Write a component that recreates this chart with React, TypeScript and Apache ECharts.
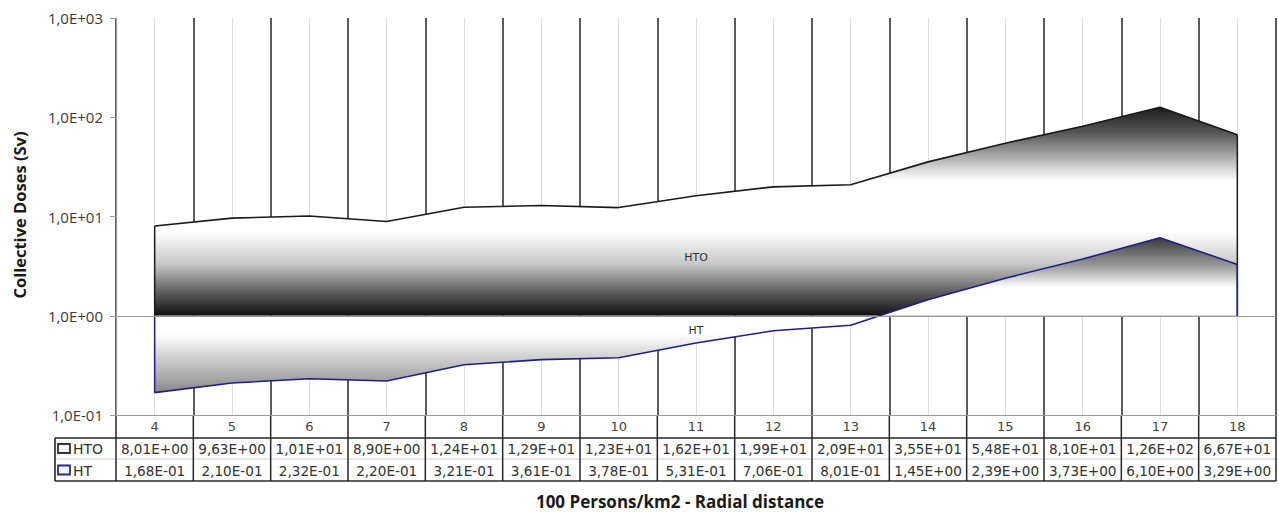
import React, { useEffect, useRef } from "react";
import * as echarts from "echarts";

const categories = ["4", "5", "6", "7", "8", "9", "10", "11", "12", "13", "14", "15", "16", "17", "18"];
const htoValues = [8.01, 9.63, 10.1, 8.9, 12.4, 12.9, 12.3, 16.2, 19.9, 20.9, 35.5, 54.8, 81.0, 126, 66.7];
const htValues = [0.168, 0.21, 0.232, 0.22, 0.321, 0.361, 0.378, 0.531, 0.706, 0.801, 1.45, 2.39, 3.73, 6.1, 3.29];
const htoTableText = ["8,01E+00", "9,63E+00", "1,01E+01", "8,90E+00", "1,24E+01", "1,29E+01", "1,23E+01", "1,62E+01", "1,99E+01", "2,09E+01", "3,55E+01", "5,48E+01", "8,10E+01", "1,26E+02", "6,67E+01"];
const htTableText = ["1,68E-01", "2,10E-01", "2,32E-01", "2,20E-01", "3,21E-01", "3,61E-01", "3,78E-01", "5,31E-01", "7,06E-01", "8,01E-01", "1,45E+00", "2,39E+00", "3,73E+00", "6,10E+00", "3,29E+00"];
const yTickValues = [0.1, 1, 10, 100, 1000];
const yTickLabels = ["1,0E-01", "1,0E+00", "1,0E+01", "1,0E+02", "1,0E+03"];
const seriesNames = ["HTO", "HT"];
const baseline = 1;

const W = 1279;
const H = 513;
const L = 116;
const R = 1276;
const T = 18;
const B = 415;
const ROW1 = 438;
const ROW2 = 459;
const ROW3 = 481;
const TABLE_LEFT = 55;

export default function App() {
  const ref = useRef<HTMLDivElement>(null);
  useEffect(() => {
    if (!ref.current) return;
    const chart = echarts.init(ref.current, null, { renderer: "svg" });
    const n = categories.length;
    const cw = (R - L) / n;
    const dark = "#262626";
    const tableFont = "DejaVu Sans";

    const graphics: any[] = [];
    graphics.push({ type: "line", shape: { x1: TABLE_LEFT, y1: ROW1, x2: R, y2: ROW1 }, style: { stroke: dark, lineWidth: 1.6 }, silent: true });
    graphics.push({ type: "line", shape: { x1: TABLE_LEFT, y1: ROW2, x2: R, y2: ROW2 }, style: { stroke: "#cfcfcf", lineWidth: 1 }, silent: true });
    graphics.push({ type: "line", shape: { x1: TABLE_LEFT, y1: ROW3, x2: R, y2: ROW3 }, style: { stroke: dark, lineWidth: 1.6 }, silent: true });
    graphics.push({ type: "line", shape: { x1: TABLE_LEFT, y1: ROW1, x2: TABLE_LEFT, y2: ROW3 }, style: { stroke: dark, lineWidth: 1.6 }, silent: true });
    for (let i = 0; i <= n; i++) {
      const x = L + i * cw;
      graphics.push({ type: "line", shape: { x1: x, y1: B, x2: x, y2: ROW3 }, style: { stroke: dark, lineWidth: 1.5 }, silent: true });
    }
    graphics.push({ type: "rect", shape: { x: 58, y: 444, width: 12, height: 9 }, style: { fill: "#f4f4f4", stroke: "#333", lineWidth: 1.8 }, silent: true });
    graphics.push({ type: "text", x: 73, y: 449, style: { text: seriesNames[0], font: `14px "${tableFont}"`, fill: "#333", verticalAlign: "middle", align: "left" }, silent: true });
    graphics.push({ type: "rect", shape: { x: 58, y: 465.5, width: 12, height: 9 }, style: { fill: "#f4f4ff", stroke: "#2a2a8c", lineWidth: 1.8 }, silent: true });
    graphics.push({ type: "text", x: 73, y: 470.5, style: { text: seriesNames[1], font: `14px "${tableFont}"`, fill: "#333", verticalAlign: "middle", align: "left" }, silent: true });
    for (let i = 0; i < n; i++) {
      const cx = L + (i + 0.5) * cw;
      graphics.push({ type: "text", x: cx, y: 449, style: { text: htoTableText[i], font: `13.6px "${tableFont}"`, fill: "#333", align: "center", verticalAlign: "middle" }, silent: true });
      graphics.push({ type: "text", x: cx, y: 470.5, style: { text: htTableText[i], font: `13.6px "${tableFont}"`, fill: "#333", align: "center", verticalAlign: "middle" }, silent: true });
    }
    graphics.push({ type: "text", x: 19, y: 215, rotation: Math.PI / 2, style: { text: "Collective Doses (Sv)", font: 'bold 16.5px "Open Sans"', fill: "#1a1a1a", align: "center", verticalAlign: "middle" }, silent: true });
    graphics.push({ type: "text", x: 680, y: 501, style: { text: "100 Persons/km2 - Radial distance", font: 'bold 17px "Open Sans"', fill: "#1a1a1a", align: "center", verticalAlign: "middle" }, silent: true });
    graphics.push({ type: "text", x: (L + R) / 2, y: 257, style: { text: seriesNames[0], font: '11px "DejaVu Sans"', fill: "#333", align: "center", verticalAlign: "middle" }, silent: true, z: 100 });
    graphics.push({ type: "text", x: (L + R) / 2, y: 330, style: { text: seriesNames[1], font: '11px "DejaVu Sans"', fill: "#333", align: "center", verticalAlign: "middle" }, silent: true, z: 100 });

    const htoGrad = new echarts.graphic.LinearGradient(0, 0, 0, 1, [
      { offset: 0, color: "#1c1c1c" },
      { offset: 0.12, color: "#555555" },
      { offset: 0.35, color: "#ffffff" },
      { offset: 0.6, color: "#ffffff" },
      { offset: 0.75, color: "#c8c8c8" },
      { offset: 0.9, color: "#555555" },
      { offset: 1, color: "#101010" },
    ]);
    const htGrad = new echarts.graphic.LinearGradient(0, 0, 0, 1, [
      { offset: 0, color: "#3c3c3c" },
      { offset: 0.18, color: "#999999" },
      { offset: 0.32, color: "#ffffff" },
      { offset: 0.62, color: "#ffffff" },
      { offset: 0.8, color: "#c8c8c8" },
      { offset: 1, color: "#888888" },
    ]);

    const edge = (cat: string, v: number, color: string) => ({
      type: "line",
      data: [[cat, baseline], [cat, v]],
      symbol: "none",
      silent: true,
      lineStyle: { color, width: 1.5 },
      z: 3,
    });

    chart.setOption({
      animation: false,
      grid: { left: L, right: W - R, top: T, bottom: H - B, containLabel: false },
      xAxis: {
        type: "category",
        data: categories,
        boundaryGap: true,
        axisLine: { show: true, onZero: false, lineStyle: { color: "#9a9a9a", width: 1.2 } },
        axisTick: { show: true, alignWithLabel: true, inside: true, length: B - T, lineStyle: { color: "#e0e0e0", width: 1 } },
        splitLine: { show: true, lineStyle: { color: dark, width: 1.5 } },
        axisLabel: { color: "#444", fontFamily: tableFont, fontSize: 13, margin: 5, lineHeight: 13 },
      },
      yAxis: {
        type: "log",
        logBase: 10,
        min: yTickValues[0],
        max: yTickValues[yTickValues.length - 1],
        axisLine: { show: true, lineStyle: { color: "#9a9a9a", width: 1.2 } },
        axisTick: { show: true, inside: false, length: 6, lineStyle: { color: "#9a9a9a" } },
        splitLine: { show: false },
        axisLabel: {
          color: "#3a3a3a",
          fontFamily: "Open Sans",
          fontSize: 15,
          margin: 13,
          formatter: (v: number) => {
            let best = 0;
            for (let i = 0; i < yTickValues.length; i++) {
              if (Math.abs(Math.log10(yTickValues[i]) - Math.log10(v)) < Math.abs(Math.log10(yTickValues[best]) - Math.log10(v))) best = i;
            }
            return yTickLabels[best];
          },
        },
      },
      graphic: graphics,
      series: [
        {
          name: seriesNames[0],
          type: "line",
          data: htoValues,
          symbol: "none",
          lineStyle: { color: "#1a1a1a", width: 1.6 },
          areaStyle: { color: htoGrad, origin: baseline, opacity: 1 },
          z: 2,
        },
        {
          name: seriesNames[1],
          type: "line",
          data: htValues,
          symbol: "none",
          lineStyle: { color: "#1f1f8a", width: 1.6 },
          areaStyle: { color: htGrad, origin: baseline, opacity: 1 },
          z: 2,
          markLine: {
            silent: true,
            symbol: "none",
            label: { show: false },
            lineStyle: { color: "#9a9a9a", width: 1.2, type: "solid" },
            data: [{ yAxis: baseline }],
          },
        },
        edge(categories[0], htoValues[0], "#1a1a1a"),
        edge(categories[categories.length - 1], htoValues[htoValues.length - 1], "#1a1a1a"),
        edge(categories[0], htValues[0], "#1f1f8a"),
        edge(categories[categories.length - 1], htValues[htValues.length - 1], "#1f1f8a"),
      ],
    });
    return () => chart.dispose();
  }, []);
  return <div ref={ref} style={{ position: "fixed", left: 0, top: 0, width: W, height: H, background: "#fff" }} />;
}
